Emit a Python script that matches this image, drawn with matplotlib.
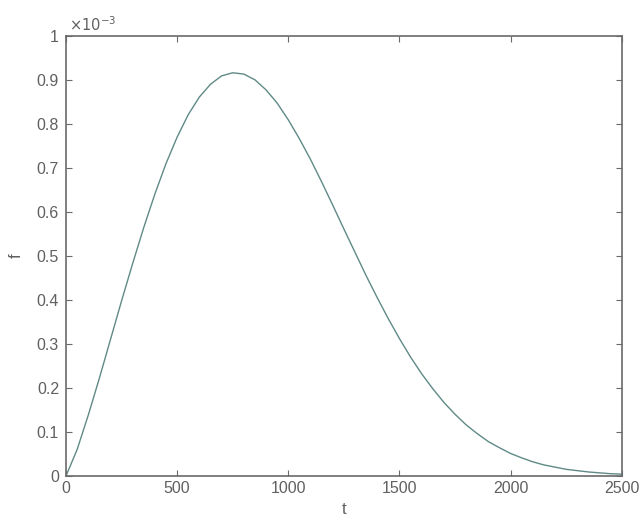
import numpy as np
import matplotlib
matplotlib.use("Agg")
import matplotlib.pyplot as plt
from matplotlib.ticker import FuncFormatter, MultipleLocator

# values, f in units of 1e-3
t = [0, 50, 100, 150, 200, 250, 300, 350, 400, 450, 500, 550, 600, 650, 700,
     750, 800, 850, 900, 950, 1000, 1050, 1100, 1150, 1200, 1250, 1300, 1350,
     1400, 1450, 1500, 1550, 1600, 1650, 1700, 1750, 1800, 1850, 1900, 1950,
     2000, 2050, 2100, 2150, 2200, 2250, 2300, 2350, 2400, 2450, 2500]
f_e3 = [0.000, 0.060, 0.138, 0.222, 0.310, 0.398, 0.483, 0.565, 0.641, 0.710,
        0.770, 0.821, 0.861, 0.890, 0.909, 0.916, 0.913, 0.900, 0.877, 0.847,
        0.809, 0.766, 0.719, 0.668, 0.615, 0.561, 0.508, 0.455, 0.405, 0.357,
        0.312, 0.270, 0.232, 0.198, 0.167, 0.140, 0.116, 0.096, 0.078, 0.064,
        0.051, 0.041, 0.032, 0.025, 0.020, 0.015, 0.012, 0.009, 0.007, 0.005,
        0.004]

t = np.array(t)
f = np.array(f_e3) * 1e-3

plt.rcParams['font.family'] = ['Liberation Sans', 'DejaVu Sans']
txt = '#606060'
edge = '#6a6a6a'

fig = plt.figure(figsize=(6.41, 5.19), dpi=100)
ax = fig.add_axes([0.103, 0.083, 0.867, 0.848])

ax.plot(t, f, color='#5f8a86', linewidth=1.0)

ax.set_xlim(0, 2500)
ax.set_ylim(0, 1e-3)
ax.xaxis.set_major_locator(MultipleLocator(500))
ax.yaxis.set_major_locator(MultipleLocator(1e-4))
ax.yaxis.set_major_formatter(FuncFormatter(lambda v, p: '%g' % round(v * 1e3, 3)))

ax.tick_params(direction='in', length=4, width=0.8, colors=edge,
               labelcolor=txt, labelsize=11.5, top=True, right=True)
ax.tick_params(axis='x', pad=4)
ax.tick_params(axis='y', pad=5)
for s in ax.spines.values():
    s.set_color(edge)
    s.set_linewidth(1.2)

ax.text(0.005, 1.003, r'$\times 10^{-3}$', transform=ax.transAxes,
        ha='left', va='bottom', fontsize=10.5, color=txt)

ax.set_xlabel('t', color=txt, fontsize=12, labelpad=4)
ax.set_ylabel('f', color=txt, fontsize=12, labelpad=9)

fig.savefig('out.png', dpi=100)
